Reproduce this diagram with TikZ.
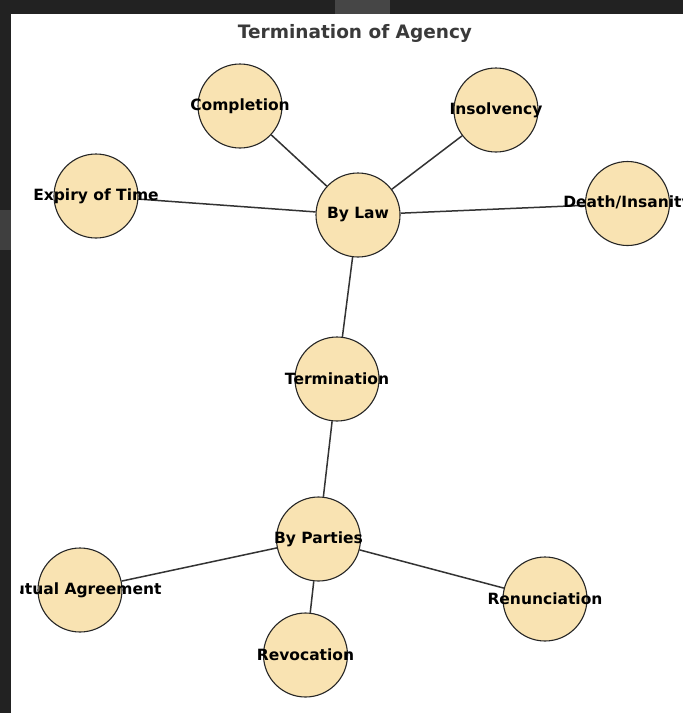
\documentclass[tikz,border=0pt]{standalone}
\usepackage{fontspec}
\setmainfont{DejaVu Sans}
\usepackage{xcolor}
\usepackage{tikz}

\definecolor{backdrop}{HTML}{222222}
\definecolor{patchgray}{HTML}{464646}
\definecolor{nodefill}{HTML}{F9E3B2}
\definecolor{nodeedge}{HTML}{262626}
\definecolor{linkgray}{HTML}{333333}
\definecolor{titlegray}{HTML}{3A3A3A}

\pgfdeclarelayer{panel}
\pgfdeclarelayer{links}
\pgfsetlayers{panel,links,main}

\begin{document}
\begin{tikzpicture}[x=1pt, y=-1pt,
        topic/.style={circle, draw=nodeedge, line width=1.1pt, fill=nodefill,
            minimum size=84pt, inner sep=0pt},
        link/.style={draw=linkgray, line width=1.5pt},
        every label/.style={font=\bfseries\fontsize{15.5}{18}\selectfont,
            text=black, inner sep=0pt}]
    \useasboundingbox (0,0) rectangle (683,713);

    % Backdrop and white panel
    \begin{pgfonlayer}{panel}
        \fill[backdrop] (0,0) rectangle (683,713);
        \fill[patchgray] (335,0) rectangle (390,14);
        \fill[patchgray!80!backdrop] (0,210) rectangle (11,250);
        \fill[white] (11,14) rectangle (683,713);
    \end{pgfonlayer}

    % Title
    \node[font=\bfseries\fontsize{18.5}{22}\selectfont, text=titlegray] (title) at (355,33) {Termination of Agency};

    % Nodes
    \begin{scope}
        \clip (20,14) rectangle (683,713);
        \node[topic, label=center:Termination] (termination) at (337,379) {};
        \node[topic, label=center:By Law] (bylaw) at (358,215) {};
        \node[topic, label=center:By Parties] (byparties) at (318.5,539) {};
        \node[topic, label=center:Completion] (completion) at (240,106) {};
        \node[topic, label=center:Insolvency] (insolvency) at (496,110) {};
        \node[topic, label=center:Expiry of Time] (expiry) at (96,196) {};
        \node[topic, label=center:Death/Insanity] (death) at (627.5,203.5) {};
        \node[topic, label=center:Mutual Agreement] (mutual) at (80,590) {};
        \node[topic, label=center:Revocation] (revocation) at (305.5,655) {};
        \node[topic, label=center:Renunciation] (renunciation) at (545,599) {};
    \end{scope}

    % Links
    \begin{pgfonlayer}{links}
        \draw[link] (termination) -- (bylaw);
        \draw[link] (termination) -- (byparties);
        \foreach \leaf in {completion, insolvency, expiry, death}
            \draw[link] (bylaw) -- (\leaf);
        \foreach \leaf in {mutual, revocation, renunciation}
            \draw[link] (byparties) -- (\leaf);
    \end{pgfonlayer}
\end{tikzpicture}
\end{document}
